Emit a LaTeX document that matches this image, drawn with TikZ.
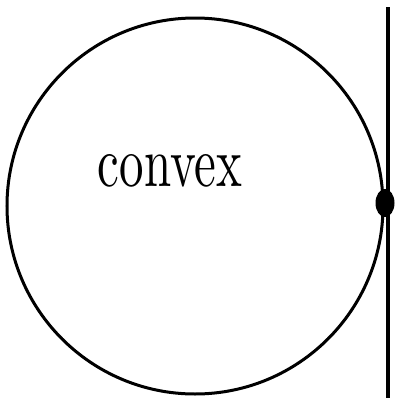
\documentclass[tikz,border=0pt]{standalone}
\usetikzlibrary{shapes.geometric}
\begin{document}
\begin{tikzpicture}[x=1pt,y=-1pt,
  stroke/.style={line width=3pt},
  bigcircle/.style={circle,draw,line width=3pt,minimum size=376pt,inner sep=0pt},
  contact/.style={ellipse,fill=black,minimum width=19pt,minimum height=28pt,inner sep=0pt},
  label/.style={inner sep=0pt}]
\useasboundingbox (0,0) rectangle (396,400);
\node[bigcircle] (c) at (195,206) {};
\coordinate (top) at (388,7);
\coordinate (bot) at (388,398);
\draw[line width=3.5pt] (top) -- (bot);
\node[contact] (p) at (385,203) {};
\node[label] (t) at (170,171) {\resizebox{144pt}{32pt}{convex}};
\end{tikzpicture}
\end{document}
